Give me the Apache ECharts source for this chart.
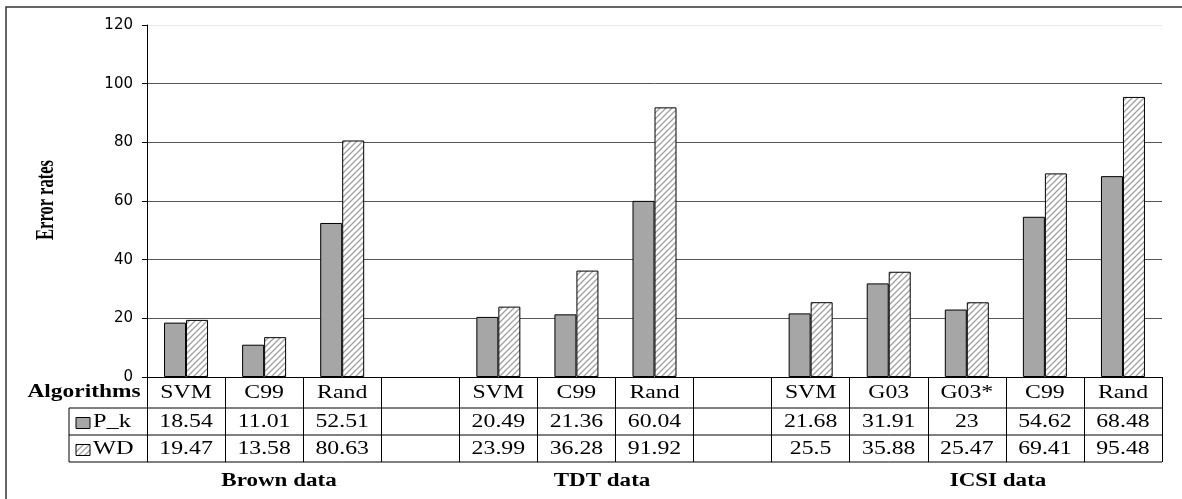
<!DOCTYPE html>
<html>
<head>
<meta charset="utf-8">
<script src="https://cdn.jsdelivr.net/npm/echarts@6/dist/echarts.min.js"></script>
<style>
html,body{margin:0;padding:0;background:#fff;}
#c{width:1182px;height:499px;}
</style>
</head>
<body>
<div id="c"></div>
<script>
// ---- data ----
var categories = ['SVM','C99','Rand','','SVM','C99','Rand','','SVM','G03','G03*','C99','Rand'];
var pkValues   = [18.54, 11.01, 52.51, null, 20.49, 21.36, 60.04, null, 21.68, 31.91, 23, 54.62, 68.48];
var wdValues   = [19.47, 13.58, 80.63, null, 23.99, 36.28, 91.92, null, 25.5, 35.88, 25.47, 69.41, 95.48];
var pkLabels   = ['18.54','11.01','52.51','','20.49','21.36','60.04','','21.68','31.91','23','54.62','68.48'];
var wdLabels   = ['19.47','13.58','80.63','','23.99','36.28','91.92','','25.5','35.88','25.47','69.41','95.48'];
var seriesNames = ['P_k','WD'];
var groupNames = ['Brown data','TDT data','ICSI data'];
var yTitle = 'Error rates';
var headerLabel = 'Algorithms';

// hatch pattern
function makeHatch(){
  var cv = document.createElement('canvas');
  cv.width = 6; cv.height = 6;
  var ctx = cv.getContext('2d');
  ctx.fillStyle = '#fff'; ctx.fillRect(0,0,6,6);
  ctx.strokeStyle = '#a0a0a0'; ctx.lineWidth = 1.3;
  ctx.beginPath();
  ctx.moveTo(-1,7); ctx.lineTo(7,-1);
  ctx.moveTo(-1,1); ctx.lineTo(1,-1);
  ctx.moveTo(5,7); ctx.lineTo(7,5);
  ctx.stroke();
  return cv;
}
var hatch = {image: makeHatch(), repeat: 'repeat'};
var gray = '#a6a6a6';

var chart = echarts.init(document.getElementById('c'), null, {renderer:'canvas'});
var G = {left:147, right:20, top:25, bottom:122};
var option = {
  animation:false,
  backgroundColor:'#fff',
  grid:{left:G.left, right:G.right, top:G.top, bottom:G.bottom, containLabel:false},
  xAxis:{
    type:'category', data:categories, boundaryGap:true,
    axisLine:{show:true, lineStyle:{color:'#000', width:1}},
    axisTick:{show:true, interval:0, length:85, lineStyle:{color:'#000', width:1}},
    axisLabel:{show:false},
    splitLine:{show:false}
  },
  yAxis:{
    type:'value', min:0, max:120, interval:20,
    axisLine:{show:true, lineStyle:{color:'#000', width:1}},
    axisTick:{show:true, length:5, lineStyle:{color:'#000'}},
    axisLabel:{fontFamily:'DejaVu Sans', fontSize:15, color:'#000', margin:14},
    splitLine:{show:true, lineStyle:{color:['#555','#555','#555','#555','#555','#555','#e8e8e8'], width:1}}
  },
  series:[
    {name:seriesNames[0], type:'bar', data:pkValues, barWidth:22, barGap:'0%',
     itemStyle:{color:gray, borderColor:'#000', borderWidth:1}},
    {name:seriesNames[1], type:'bar', data:wdValues, barWidth:22, barGap:'0%',
     itemStyle:{color:hatch, borderColor:'#000', borderWidth:1}}
  ]
};
chart.setOption(option);

// ---- table & labels ----
var W = 1182, H = 499;
var x0 = G.left, x1 = W - G.right;
var yZero = chart.convertToPixel({yAxisIndex:0}, 0);
var r1 = yZero + 31, r2 = r1 + 27, r3 = r2 + 27;
var tabLeft = 69;
var sx = 1.32;
var serif = 'Liberation Serif';
var g = [];
function txt(t, x, y, opts){
  opts = opts || {};
  return {type:'text', x:x, y:y, scaleX: opts.scaleX || sx, z:100,
    style:{text:t, fill:'#000', fontFamily:serif, fontSize: opts.size || 18,
      fontWeight: opts.bold ? 'bold' : 'normal', align: opts.align || 'center', verticalAlign:'middle'}};
}
// outer border
g.push({type:'rect', shape:{x:6, y:7, width:1190, height:510}, style:{fill:null, stroke:'#333', lineWidth:1.5}, z:1});
// y axis title (rotated)
g.push({type:'text', x:47, y:200, rotation:Math.PI/2, scaleX:1, scaleY:1.5, z:100,
  style:{text:yTitle, fill:'#000', fontFamily:serif, fontSize:16.5, fontWeight:'bold', align:'center', verticalAlign:'middle'}});
// horizontal table lines
[r1, r2, r3].forEach(function(y){
  g.push({type:'line', shape:{x1:tabLeft, y1:y, x2:x1, y2:y}, style:{stroke:'#000', lineWidth:1}, z:50});
});
g.push({type:'line', shape:{x1:tabLeft, y1:r1, x2:tabLeft, y2:r3}, style:{stroke:'#000', lineWidth:1}, z:50});
// header
g.push(txt(headerLabel, 84, (yZero + r1)/2, {bold:true, scaleX:1.3}));
g.push(txt(seriesNames[0], 93, (r1 + r2)/2 + 1, {align:'left', scaleX:1.35}));
g.push(txt(seriesNames[1], 93, (r2 + r3)/2 + 1, {align:'left', scaleX:1.35}));
g.push({type:'rect', shape:{x:76, y:(r1+r2)/2 - 4, width:14, height:11}, style:{fill:gray, stroke:'#000', lineWidth:1}, z:60});
g.push({type:'rect', shape:{x:76, y:(r2+r3)/2 - 4, width:14, height:11}, style:{fill:hatch, stroke:'#000', lineWidth:1}, z:60});
for (var i = 0; i < categories.length; i++){
  var cx = chart.convertToPixel({xAxisIndex:0}, i);
  if (categories[i]) g.push(txt(categories[i], cx, (yZero + r1)/2 + 1));
  if (pkLabels[i]) g.push(txt(pkLabels[i], cx, (r1 + r2)/2 + 1));
  if (wdLabels[i]) g.push(txt(wdLabels[i], cx, (r2 + r3)/2 + 1));
}
// group labels
var groupX = [279, 602, 998];
groupNames.forEach(function(n, k){
  g.push(txt(n, groupX[k], r3 + 19, {bold:true, size:18, scaleX:1.28}));
});
chart.setOption({graphic:g});
</script>
</body>
</html>
